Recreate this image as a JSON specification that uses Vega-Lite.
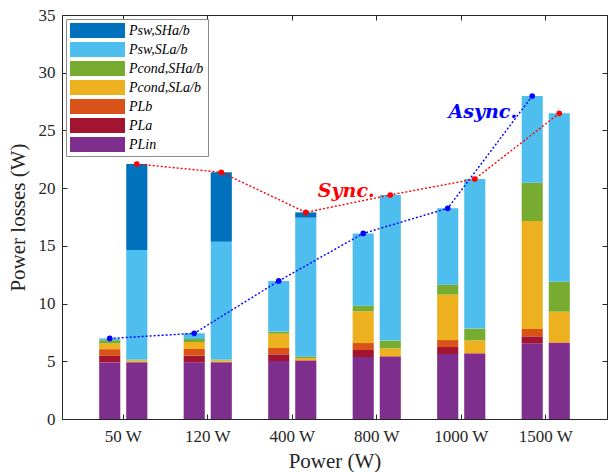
{
  "$schema": "https://vega.github.io/schema/vega-lite/v6.json",
  "width": 545,
  "height": 404,
  "autosize": "none",
  "padding": {"left": 62, "top": 15, "right": 1, "bottom": 53},
  "background": "white",
  "config": {
    "view": {"stroke": "#262626", "strokeWidth": 1},
    "font": "Liberation Serif",
    "axis": {
      "labelFont": "Liberation Serif", "titleFont": "Liberation Serif",
      "labelColor": "#262626", "titleColor": "#262626",
      "domainColor": "#262626", "tickColor": "#262626",
      "grid": false, "labelFontSize": 17, "titleFontSize": 21,
      "titleFontWeight": "normal", "tickSize": -5
    },
    "legend": {
      "orient": "none", "legendX": 4, "legendY": 4,
      "symbolType": "M-1,-1H6.333V1H-1Z", "symbolSize": 225,
      "symbolStrokeWidth": 0, "labelFont": "Liberation Serif",
      "labelFontStyle": "italic", "labelFontSize": 14, "labelOffset": 44,
      "rowPadding": 4, "padding": 4, "fillColor": "white",
      "strokeColor": "#8a8a8a", "labelColor": "#000000", "labelLimit": 0
    }
  },
  "datasets": {
    "comps": [
      {"c": "Lin", "label": "PLin", "k": 1},
      {"c": "La", "label": "PLa", "k": 2},
      {"c": "Lb", "label": "PLb", "k": 3},
      {"c": "condSL", "label": "Pcond,SLa/b", "k": 4},
      {"c": "condSH", "label": "Pcond,SHa/b", "k": 5},
      {"c": "swSL", "label": "Psw,SLa/b", "k": 6},
      {"c": "swSH", "label": "Psw,SHa/b", "k": 7}
    ]
  },
  "data": {"values": [
    {"p": "50 W", "m": "Async", "c": "Lin", "v": 4.9},
    {"p": "50 W", "m": "Async", "c": "La", "v": 0.57},
    {"p": "50 W", "m": "Async", "c": "Lb", "v": 0.58},
    {"p": "50 W", "m": "Async", "c": "condSL", "v": 0.5},
    {"p": "50 W", "m": "Async", "c": "condSH", "v": 0.28},
    {"p": "50 W", "m": "Async", "c": "swSL", "v": 0.15},
    {"p": "120 W", "m": "Async", "c": "Lin", "v": 4.91},
    {"p": "120 W", "m": "Async", "c": "La", "v": 0.57},
    {"p": "120 W", "m": "Async", "c": "Lb", "v": 0.58},
    {"p": "120 W", "m": "Async", "c": "condSL", "v": 0.61},
    {"p": "120 W", "m": "Async", "c": "condSH", "v": 0.26},
    {"p": "120 W", "m": "Async", "c": "swSL", "v": 0.49},
    {"p": "400 W", "m": "Async", "c": "Lin", "v": 5.02},
    {"p": "400 W", "m": "Async", "c": "La", "v": 0.58},
    {"p": "400 W", "m": "Async", "c": "Lb", "v": 0.55},
    {"p": "400 W", "m": "Async", "c": "condSL", "v": 1.24},
    {"p": "400 W", "m": "Async", "c": "condSH", "v": 0.18},
    {"p": "400 W", "m": "Async", "c": "swSL", "v": 4.39},
    {"p": "800 W", "m": "Async", "c": "Lin", "v": 5.37},
    {"p": "800 W", "m": "Async", "c": "La", "v": 0.61},
    {"p": "800 W", "m": "Async", "c": "Lb", "v": 0.6},
    {"p": "800 W", "m": "Async", "c": "condSL", "v": 2.75},
    {"p": "800 W", "m": "Async", "c": "condSH", "v": 0.49},
    {"p": "800 W", "m": "Async", "c": "swSL", "v": 6.26},
    {"p": "1000 W", "m": "Async", "c": "Lin", "v": 5.63},
    {"p": "1000 W", "m": "Async", "c": "La", "v": 0.61},
    {"p": "1000 W", "m": "Async", "c": "Lb", "v": 0.6},
    {"p": "1000 W", "m": "Async", "c": "condSL", "v": 3.93},
    {"p": "1000 W", "m": "Async", "c": "condSH", "v": 0.87},
    {"p": "1000 W", "m": "Async", "c": "swSL", "v": 6.61},
    {"p": "1500 W", "m": "Async", "c": "Lin", "v": 6.56},
    {"p": "1500 W", "m": "Async", "c": "La", "v": 0.6},
    {"p": "1500 W", "m": "Async", "c": "Lb", "v": 0.64},
    {"p": "1500 W", "m": "Async", "c": "condSL", "v": 9.35},
    {"p": "1500 W", "m": "Async", "c": "condSH", "v": 3.32},
    {"p": "1500 W", "m": "Async", "c": "swSL", "v": 7.51},
    {"p": "50 W", "m": "Sync", "c": "Lin", "v": 4.9},
    {"p": "50 W", "m": "Sync", "c": "La", "v": 0.03},
    {"p": "50 W", "m": "Sync", "c": "Lb", "v": 0.03},
    {"p": "50 W", "m": "Sync", "c": "condSL", "v": 0.12},
    {"p": "50 W", "m": "Sync", "c": "condSH", "v": 0.07},
    {"p": "50 W", "m": "Sync", "c": "swSL", "v": 9.49},
    {"p": "50 W", "m": "Sync", "c": "swSH", "v": 7.45},
    {"p": "120 W", "m": "Sync", "c": "Lin", "v": 4.9},
    {"p": "120 W", "m": "Sync", "c": "La", "v": 0.03},
    {"p": "120 W", "m": "Sync", "c": "Lb", "v": 0.03},
    {"p": "120 W", "m": "Sync", "c": "condSL", "v": 0.12},
    {"p": "120 W", "m": "Sync", "c": "condSH", "v": 0.07},
    {"p": "120 W", "m": "Sync", "c": "swSL", "v": 10.21},
    {"p": "120 W", "m": "Sync", "c": "swSH", "v": 6.01},
    {"p": "400 W", "m": "Sync", "c": "Lin", "v": 5.02},
    {"p": "400 W", "m": "Sync", "c": "La", "v": 0.04},
    {"p": "400 W", "m": "Sync", "c": "Lb", "v": 0.04},
    {"p": "400 W", "m": "Sync", "c": "condSL", "v": 0.17},
    {"p": "400 W", "m": "Sync", "c": "condSH", "v": 0.15},
    {"p": "400 W", "m": "Sync", "c": "swSL", "v": 12.02},
    {"p": "400 W", "m": "Sync", "c": "swSH", "v": 0.46},
    {"p": "800 W", "m": "Sync", "c": "Lin", "v": 5.4},
    {"p": "800 W", "m": "Sync", "c": "La", "v": 0.03},
    {"p": "800 W", "m": "Sync", "c": "Lb", "v": 0.03},
    {"p": "800 W", "m": "Sync", "c": "condSL", "v": 0.66},
    {"p": "800 W", "m": "Sync", "c": "condSH", "v": 0.67},
    {"p": "800 W", "m": "Sync", "c": "swSL", "v": 12.62},
    {"p": "1000 W", "m": "Sync", "c": "Lin", "v": 5.66},
    {"p": "1000 W", "m": "Sync", "c": "La", "v": 0.03},
    {"p": "1000 W", "m": "Sync", "c": "Lb", "v": 0.03},
    {"p": "1000 W", "m": "Sync", "c": "condSL", "v": 1.09},
    {"p": "1000 W", "m": "Sync", "c": "condSH", "v": 1.02},
    {"p": "1000 W", "m": "Sync", "c": "swSL", "v": 12.96},
    {"p": "1500 W", "m": "Sync", "c": "Lin", "v": 6.58},
    {"p": "1500 W", "m": "Sync", "c": "La", "v": 0.03},
    {"p": "1500 W", "m": "Sync", "c": "Lb", "v": 0.03},
    {"p": "1500 W", "m": "Sync", "c": "condSL", "v": 2.66},
    {"p": "1500 W", "m": "Sync", "c": "condSH", "v": 2.6},
    {"p": "1500 W", "m": "Sync", "c": "swSL", "v": 14.58}
  ]},
  "transform": [
    {"lookup": "c", "from": {"data": {"name": "comps"}, "key": "c", "fields": ["label", "k"]}}
  ],
  "layer": [
    {
      "mark": {"type": "bar"},
      "encoding": {
        "x": {"field": "p", "type": "nominal", "sort": ["50 W", "120 W", "400 W", "800 W", "1000 W", "1500 W"],
              "scale": {"paddingInner": 0.43, "paddingOuter": 0.44},
              "axis": {"orient": "bottom", "title": "Power (W)", "labelAngle": 0, "labelPadding": 14, "titlePadding": 6, "domain": false}},
        "xOffset": {"field": "m", "type": "nominal", "sort": ["Async", "Sync"], "scale": {"paddingInner": 0.22, "paddingOuter": 0}},
        "y": {"field": "v", "type": "quantitative", "stack": "zero",
              "scale": {"domain": [0, 35], "nice": false},
              "axis": {"orient": "left", "title": "Power losses (W)", "values": [0, 5, 10, 15, 20, 25, 30, 35], "labelPadding": 12, "titlePadding": 10, "domain": false}},
        "color": {"field": "label", "type": "nominal",
                  "scale": {"domain": ["Psw,SHa/b", "Psw,SLa/b", "Pcond,SHa/b", "Pcond,SLa/b", "PLb", "PLa", "PLin"],
                            "range": ["#0072BD", "#4DBEEE", "#77AC30", "#EDB120", "#D95319", "#A2142F", "#7E2F8E"]},
                  "legend": {"title": null}},
        "order": {"field": "k", "type": "quantitative", "sort": "ascending"}
      }
    },
    {
      "transform": [
        {"filter": "datum.m === 'Async'"},
        {"aggregate": [{"op": "sum", "field": "v", "as": "tot"}], "groupby": ["p", "m"]}
      ],
      "mark": {"type": "line", "color": "#0000FF", "strokeDash": [2, 2], "strokeWidth": 1.4},
      "encoding": {
        "x": {"field": "p", "type": "nominal", "sort": ["50 W", "120 W", "400 W", "800 W", "1000 W", "1500 W"],
              "axis": {"orient": "top", "labels": false, "title": null, "domain": false}},
        "xOffset": {"field": "m", "type": "nominal", "sort": ["Async", "Sync"]},
        "y": {"field": "tot", "type": "quantitative",
              "axis": {"orient": "right", "labels": false, "title": null, "values": [0, 5, 10, 15, 20, 25, 30, 35], "domain": false}}
      }
    },
    {
      "transform": [
        {"filter": "datum.m === 'Async'"},
        {"aggregate": [{"op": "sum", "field": "v", "as": "tot"}], "groupby": ["p", "m"]}
      ],
      "mark": {"type": "point", "filled": true, "color": "#0000FF", "size": 32, "opacity": 1},
      "encoding": {
        "x": {"field": "p", "type": "nominal", "sort": ["50 W", "120 W", "400 W", "800 W", "1000 W", "1500 W"], "axis": null},
        "xOffset": {"field": "m", "type": "nominal", "sort": ["Async", "Sync"]},
        "y": {"field": "tot", "type": "quantitative", "axis": null}
      }
    },
    {
      "transform": [
        {"filter": "datum.m === 'Sync'"},
        {"aggregate": [{"op": "sum", "field": "v", "as": "tot"}], "groupby": ["p", "m"]}
      ],
      "mark": {"type": "line", "color": "#FF0000", "strokeDash": [2, 2], "strokeWidth": 1.4},
      "encoding": {
        "x": {"field": "p", "type": "nominal", "sort": ["50 W", "120 W", "400 W", "800 W", "1000 W", "1500 W"], "axis": null},
        "xOffset": {"field": "m", "type": "nominal", "sort": ["Async", "Sync"]},
        "y": {"field": "tot", "type": "quantitative", "axis": null}
      }
    },
    {
      "transform": [
        {"filter": "datum.m === 'Sync'"},
        {"aggregate": [{"op": "sum", "field": "v", "as": "tot"}], "groupby": ["p", "m"]}
      ],
      "mark": {"type": "point", "filled": true, "color": "#FF0000", "size": 32, "opacity": 1},
      "encoding": {
        "x": {"field": "p", "type": "nominal", "sort": ["50 W", "120 W", "400 W", "800 W", "1000 W", "1500 W"], "axis": null},
        "xOffset": {"field": "m", "type": "nominal", "sort": ["Async", "Sync"]},
        "y": {"field": "tot", "type": "quantitative", "axis": null}
      }
    },
    {
      "data": {"values": [{"p": "1000 W", "m": "Sync", "t": "Async.", "y": 26.1}]},
      "mark": {"type": "text", "color": "#0000FF", "font": "DejaVu Serif", "fontStyle": "italic", "fontWeight": "bold", "fontSize": 19, "align": "center", "baseline": "alphabetic", "dx": 8},
      "encoding": {
        "x": {"field": "p", "type": "nominal", "sort": ["50 W", "120 W", "400 W", "800 W", "1000 W", "1500 W"], "axis": null},
        "xOffset": {"field": "m", "type": "nominal", "sort": ["Async", "Sync"]},
        "y": {"field": "y", "type": "quantitative", "axis": null},
        "text": {"field": "t"}
      }
    },
    {
      "data": {"values": [{"p": "800 W", "m": "Async", "t": "Sync.", "y": 19.25}]},
      "mark": {"type": "text", "color": "#FF0000", "font": "DejaVu Serif", "fontStyle": "italic", "fontWeight": "bold", "fontSize": 19, "align": "center", "baseline": "alphabetic", "dx": -17},
      "encoding": {
        "x": {"field": "p", "type": "nominal", "sort": ["50 W", "120 W", "400 W", "800 W", "1000 W", "1500 W"], "axis": null},
        "xOffset": {"field": "m", "type": "nominal", "sort": ["Async", "Sync"]},
        "y": {"field": "y", "type": "quantitative", "axis": null},
        "text": {"field": "t"}
      }
    }
  ]
}
